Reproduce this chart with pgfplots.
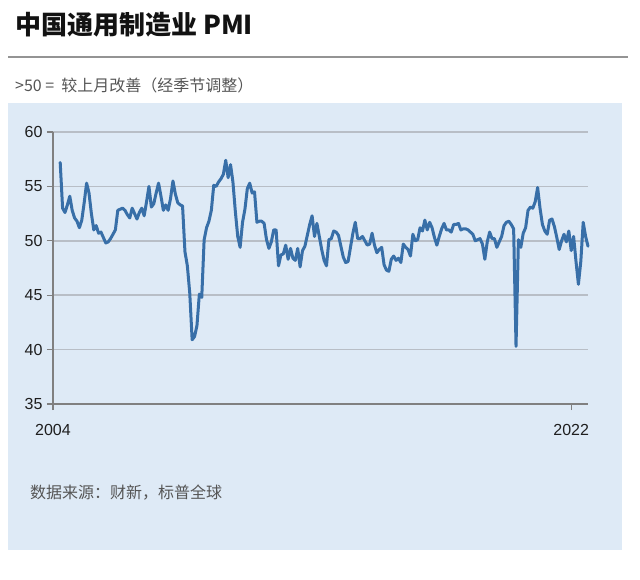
\documentclass[border=0pt]{standalone}
\usepackage{pgfplots}
\pgfplotsset{compat=1.18}
\usepackage{pgfplotstable}
\usepackage{fontspec}
\setmainfont{Liberation Sans}
\newfontfamily\cjk{Noto Sans CJK SC}
\definecolor{panel}{RGB}{222,234,246}
\definecolor{pmiline}{RGB}{56,111,168}
\definecolor{gridc}{RGB}{184,190,198}
\definecolor{axisc}{RGB}{128,128,128}
\definecolor{txtgray}{RGB}{85,85,85}
\pgfplotstableread{
k v
3 57.2
4 53.0
5 52.6
6 53.3
7 54.1
8 52.8
9 52.1
10 51.8
11 51.2
12 51.9
13 53.5
14 55.3
15 54.4
16 52.5
17 51.0
18 51.4
19 50.7
20 50.8
21 50.3
22 49.8
23 49.9
24 50.2
25 50.6
26 51.0
27 52.8
28 52.9
29 53.0
30 52.8
31 52.4
32 52.1
33 53.0
34 52.5
35 52.0
36 52.6
37 53.0
38 52.3
39 53.6
40 55.0
41 53.1
42 53.4
43 54.4
44 55.3
45 54.1
46 52.8
47 53.3
48 52.8
49 53.9
50 55.5
51 54.3
52 53.5
53 53.3
54 53.2
55 49.0
56 47.7
57 45.2
58 40.9
59 41.2
60 42.2
61 45.1
62 44.8
63 50.1
64 51.2
65 51.8
66 52.8
67 55.1
68 55.0
69 55.4
70 55.7
71 56.1
72 57.4
73 55.8
74 57.0
75 55.4
76 52.7
77 50.4
78 49.4
79 51.7
80 52.9
81 54.8
82 55.3
83 54.4
84 54.5
85 51.7
86 51.8
87 51.8
88 51.6
89 50.1
90 49.3
91 49.9
92 51.0
93 51.0
94 47.7
95 48.7
96 48.8
97 49.6
98 48.3
99 49.3
100 48.4
101 48.2
102 49.3
103 47.6
104 49.1
105 49.5
106 50.5
107 51.5
108 52.3
109 50.4
110 51.6
111 50.4
112 49.2
113 48.2
114 47.7
115 50.1
116 50.2
117 50.9
118 50.8
119 50.5
120 49.5
121 48.5
122 48.0
123 48.1
124 49.4
125 50.7
126 51.7
127 50.2
128 50.2
129 50.4
130 50.0
131 49.6
132 49.7
133 50.7
134 49.6
135 48.9
136 49.2
137 49.4
138 47.8
139 47.3
140 47.2
141 48.3
142 48.6
143 48.2
144 48.4
145 48.0
146 49.7
147 49.4
148 49.2
149 48.6
150 50.6
151 50.0
152 50.1
153 51.2
154 50.9
155 51.9
156 51.0
157 51.7
158 51.2
159 50.3
160 49.6
161 50.4
162 51.1
163 51.6
164 51.0
165 51.0
166 50.8
167 51.5
168 51.5
169 51.6
170 51.0
171 51.1
172 51.1
173 51.0
174 50.8
175 50.6
176 50.0
177 50.1
178 50.2
179 49.7
180 48.3
181 49.9
182 50.8
183 50.2
184 50.2
185 49.4
186 49.9
187 50.4
188 51.4
189 51.7
190 51.8
191 51.5
192 51.1
193 40.3
194 50.1
195 49.4
196 50.7
197 51.2
198 52.8
199 53.1
200 53.0
201 53.6
202 54.9
203 53.0
204 51.5
205 50.9
206 50.6
207 51.9
208 52.0
209 51.3
210 50.3
211 49.2
212 50.0
213 50.6
214 49.9
215 50.9
216 49.1
217 50.4
218 48.1
219 46.0
220 48.1
221 51.7
222 50.4
223 49.5
}\pmidata
\begin{document}
\begin{tikzpicture}[x=1pt,y=1pt]
\useasboundingbox (0,0) rectangle (640,579);
% header
\node[anchor=base west,inner sep=0pt,text=black!93] at (15,544) {\cjk\bfseries\fontsize{26}{29}\selectfont 中国通用制造业 PMI};
\draw[line width=1.4pt,color=black!42] (8,522) -- (628,522);
\node[anchor=base west,inner sep=0pt,text=txtgray] at (15,487) {\cjk\fontsize{16}{18}\selectfont >50 = \ 较上月改善（经季节调整）};
% panel
\fill[panel] (8,29) rectangle (622,476);
\node[anchor=base west,inner sep=0pt,text=txtgray] at (30,81) {\cjk\fontsize{16}{18}\selectfont 数据来源：财新，标普全球};
\begin{axis}[
  at={(53pt,175pt)}, anchor=south west,
  width=535pt, height=272pt, scale only axis,
  xmin=0, xmax=223, ymin=35, ymax=60,
  axis x line*=bottom, axis y line*=left,
  axis line style={-, color=axisc, line width=1.3pt},
  xtick={0,216}, xticklabels={2004,2022},
  ytick={35,40,45,50,55,60},
  ymajorgrids, grid style={color=gridc, line width=1.5pt},
  tick align=outside, major tick length=6pt,
  tick style={color=axisc, line width=1.2pt},
  /pgf/number format/assume math mode=true,
  ticklabel style={font=\fontsize{16}{18}\selectfont, text=black!88},
  xticklabel style={yshift=-11pt},
  yticklabel style={xshift=-1pt},
  clip=false,
]
\addplot[color=pmiline, line width=3pt, line join=round, line cap=round, mark=none] table[x=k,y=v] {\pmidata};
\end{axis}
\end{tikzpicture}
\end{document}
